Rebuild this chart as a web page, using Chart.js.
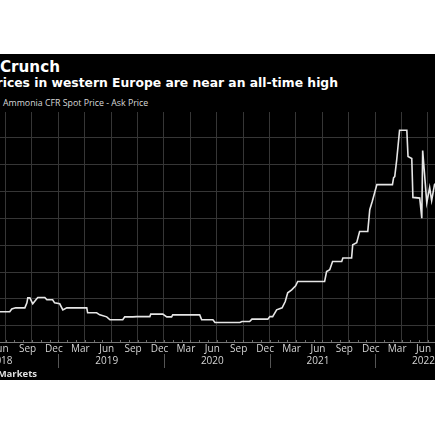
<!DOCTYPE html>
<html>
<head>
<meta charset="utf-8">
<script src="https://cdn.jsdelivr.net/npm/chart.js@4.4.1/dist/chart.umd.min.js"></script>
<style>
  html, body { margin: 0; padding: 0; background: #fff; }
  body { width: 435px; height: 435px; position: relative; overflow: hidden; font-family: "Open Sans", sans-serif; }
  #panel { position: absolute; left: 0; top: 54px; width: 435px; height: 326px; background: #000; overflow: hidden; }
  .t { position: absolute; white-space: nowrap; color: #fff; }
  #title { right: 375px; top: 3px; font-family: "DejaVu Sans", sans-serif; font-size: 15.2px; line-height: 20px; font-weight: 700; }
  #subtitle { right: 97px; top: 21px; font-family: "DejaVu Sans", sans-serif; font-size: 12.35px; line-height: 16px; font-weight: 700; }
  #legend { left: 3px; top: 43px; font-size: 8.8px; line-height: 12px; color: #d8d8d8; }
  #source { right: 398px; top: 314px; font-size: 9.5px; line-height: 12px; font-weight: 700; color: #e0e0e0; }
  #wrap { position: absolute; left: 0; top: 46px; width: 435px; height: 280px; }
</style>
</head>
<body>
<div id="panel">
  <div class="t" id="title">Ammonia Crunch</div>
  <div class="t" id="subtitle">Prices in western Europe are near an all-time high</div>
  <div class="t" id="legend">Ammonia CFR Spot Price - Ask Price</div>
  <div id="wrap"><canvas id="priceChart" width="435" height="280"></canvas></div>
  <div class="t" id="source">Source: Green Markets</div>
</div>
<script>
// weekly-ish reads of the spot price, $/ton
const dates = [
  '2018-06-01', '2018-07-16', '2018-07-23', '2018-08-06', '2018-09-07', '2018-09-14', '2018-09-17', '2018-09-24',
  '2018-10-04', '2018-10-18', '2018-10-22', '2018-11-15', '2018-11-22', '2018-12-12', '2018-12-19', '2019-01-06',
  '2019-01-17', '2019-01-31', '2019-04-08', '2019-04-11', '2019-05-12', '2019-05-23', '2019-06-16', '2019-06-27',
  '2019-08-11', '2019-08-18', '2019-09-15', '2019-09-29', '2019-11-13', '2019-11-16', '2019-12-28', '2020-01-11',
  '2020-01-28', '2020-02-01', '2020-05-03', '2020-05-10', '2020-06-18', '2020-06-25', '2020-09-20', '2020-09-27',
  '2020-10-24', '2020-11-01', '2020-12-26', '2021-01-02', '2021-01-12', '2021-01-26', '2021-02-13', '2021-02-23',
  '2021-03-03', '2021-03-17', '2021-03-31', '2021-04-07', '2021-07-09', '2021-07-16', '2021-07-27', '2021-08-06',
  '2021-09-07', '2021-09-11', '2021-10-11', '2021-10-15', '2021-10-29', '2021-11-08', '2021-12-06', '2021-12-13',
  '2021-12-22', '2022-01-07', '2022-02-28', '2022-03-04', '2022-03-08', '2022-03-15', '2022-03-25', '2022-04-19',
  '2022-04-23', '2022-05-06', '2022-05-10', '2022-06-03', '2022-06-10', '2022-06-13', '2022-06-27', '2022-07-07',
  '2022-07-14', '2022-07-24', '2022-07-29'
];
const prices = [
  305, 305, 325, 334, 334, 371, 408, 408,
  364, 401, 411, 411, 394, 394, 371, 364,
  319, 334, 334, 297, 297, 282, 267, 245,
  245, 267, 267, 269, 269, 287, 287, 267,
  267, 282, 282, 245, 245, 225, 225, 232,
  232, 250, 250, 269, 269, 319, 334, 381,
  446, 468, 498, 530, 530, 604, 617, 679,
  679, 704, 704, 803, 818, 902, 902, 1064,
  1126, 1250, 1250, 1302, 1309, 1436, 1654, 1654,
  1459, 1444, 1155, 1150, 1001, 1503, 1116, 1228,
  1131, 1250, 1260
];

const monthNames = ['Jan', 'Feb', 'Mar', 'Apr', 'May', 'Jun', 'Jul', 'Aug', 'Sep', 'Oct', 'Nov', 'Dec'];
const labelMonths = [2, 5, 8, 11];            // Mar, Jun, Sep, Dec
const years = ['2018', '2019', '2020', '2021', '2022'];
const yTicks = [200, 400, 600, 800, 1000, 1200, 1400, 1600];

// x is counted in months from Jan 2018
function monthIndex(d) {
  const [y, m, day] = d.split('-').map(Number);
  const dim = new Date(y, m, 0).getDate();
  return (y - 2018) * 12 + (m - 1) + (day - 1) / dim;
}

const points = dates.map((d, i) => ({ x: monthIndex(d), y: prices[i] }));

const extras = {
  id: 'extras',
  afterDraw(chart) {
    const xs = chart.scales.x;
    const ctx = chart.ctx;
    const bottom = chart.chartArea.bottom;
    ctx.save();
    ctx.lineWidth = 1;
    ctx.strokeStyle = '#6a6a6a';
    for (let m = 0; m <= 60; m++) {
      const px = Math.round(xs.getPixelForValue(m)) + 0.5;
      ctx.beginPath();
      ctx.moveTo(px, bottom - 2);
      ctx.lineTo(px, bottom);
      ctx.stroke();
    }
    ctx.strokeStyle = '#555';
    years.forEach((y, i) => {
      const px = Math.round(xs.getPixelForValue(i * 12)) + 0.5;
      ctx.beginPath();
      ctx.moveTo(px, bottom + 12);
      ctx.lineTo(px, bottom + 26);
      ctx.stroke();
    });
    ctx.restore();
  }
};

new Chart(document.getElementById('priceChart'), {
  type: 'line',
  plugins: [extras],
  data: {
    datasets: [{
      data: points,
      borderColor: '#e6e6e6',
      borderWidth: 1.6,
      pointRadius: 0,
      tension: 0,
      fill: false
    }]
  },
  options: {
    responsive: false,
    animation: false,
    layout: { padding: { top: 12, left: 0, right: 0, bottom: 0 } },
    plugins: { legend: { display: false }, tooltip: { enabled: false } },
    scales: {
      x: {
        type: 'linear',
        min: 5.375,
        max: 54.8,
        afterBuildTicks: (scale) => {
          const t = [];
          for (let y = 0; y < years.length; y++) {
            for (let q = 0; q < 4; q++) {
              t.push({ value: y * 12 + q * 3 });
              t.push({ value: y * 12 + labelMonths[q] + 0.5 });
            }
          }
          t.sort((a, b) => a.value - b.value);
          scale.ticks = t;
        },
        afterFit: (scale) => {
          scale.paddingLeft = 0;
          scale.paddingRight = 0;
          scale.height = 38;
        },
        grid: {
          drawTicks: false,
          color: (ctx) => (ctx.tick && Number.isInteger(ctx.tick.value)) ? '#363636' : 'rgba(0,0,0,0)'
        },
        border: { display: true, color: '#777', width: 1 },
        ticks: {
          autoSkip: false,
          maxRotation: 0,
          padding: 1,
          color: '#d4d4d4',
          font: { family: 'Open Sans', size: 10, lineHeight: 1.2 },
          callback: (value) => {
            if (Number.isInteger(value)) return '';
            const m = Math.floor(value);
            const name = monthNames[m % 12];
            if (m % 12 === 5) return [name, years[Math.floor(m / 12)]];
            return name;
          }
        }
      },
      y: {
        min: 80,
        max: 1790,
        afterBuildTicks: (scale) => {
          scale.ticks = yTicks.map(v => ({ value: v }));
        },
        afterFit: (scale) => {
          scale.width = 0;
        },
        grid: { color: '#363636', drawTicks: false },
        border: { display: false },
        ticks: { display: false }
      }
    }
  }
});
</script>
</body>
</html>
